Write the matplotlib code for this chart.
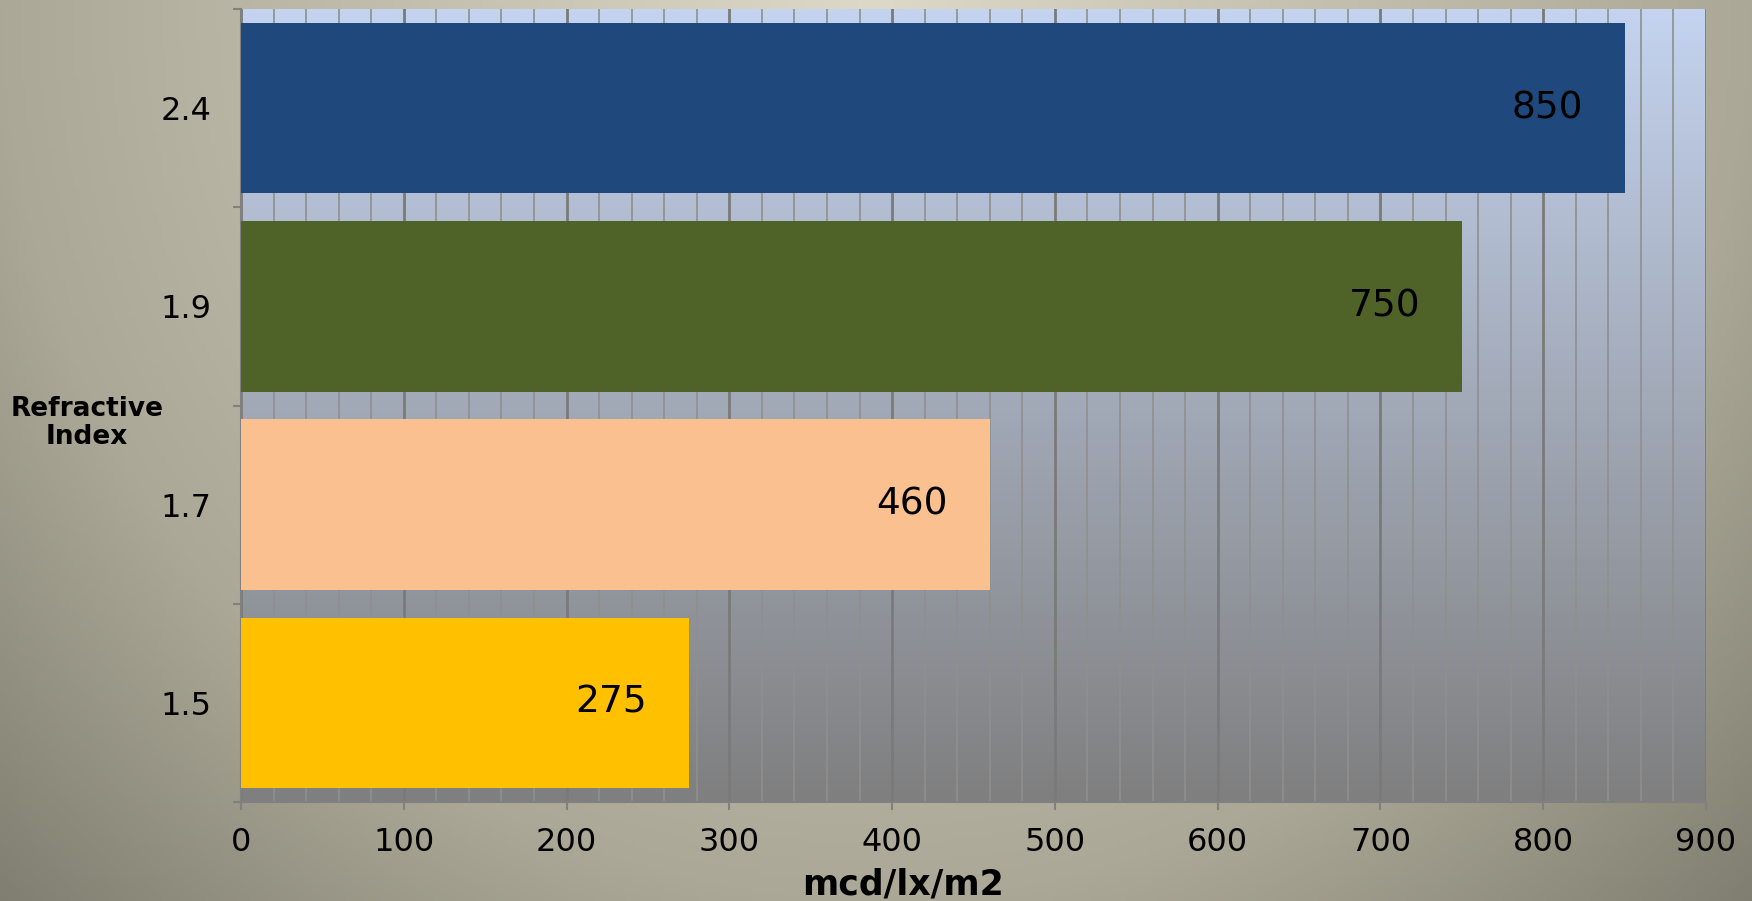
import numpy as np
import matplotlib.pyplot as plt
from matplotlib.ticker import MultipleLocator, FixedLocator

# data
categories = ['1.5', '1.7', '1.9', '2.4']
values = [275, 460, 750, 850]
bar_colors = ['#ffc000', '#fac090', '#4f6228', '#1f497d']
x_ticks = [0, 100, 200, 300, 400, 500, 600, 700, 800, 900]

W, H = 1752, 901
fig = plt.figure(figsize=(W / 100, H / 100), dpi=100)

# figure background: radial-ish gradient, light at top centre
bg_ax = fig.add_axes([0, 0, 1, 1], zorder=-10)
xx, yy = np.meshgrid(np.linspace(0, 1, 400), np.linspace(0, 1, 200))
d = np.sqrt(((xx - 0.5) / 0.5) ** 2 + yy ** 2)
stops = [0, 1.0, 1.42]
rgb = np.dstack([
    np.interp(d, stops, [220, 171, 128]),
    np.interp(d, stops, [217, 168, 126]),
    np.interp(d, stops, [200, 151, 112]),
]) / 255
bg_ax.imshow(rgb, extent=[0, 1, 0, 1], aspect='auto', origin='upper')
bg_ax.axis('off')

ax = fig.add_axes([241 / W, 1 - 802 / H, (1706 - 241) / W, (802 - 9) / H])
ax.set_facecolor('none')

# plot area gradient: light blue on top, grey at bottom
t = np.linspace(0, 1, 256)[:, None]
top = np.array([196, 211, 239]) / 255
bot = np.array([127, 127, 127]) / 255
grad = (top * (1 - t) + bot * t)[:, None, :].repeat(2, axis=1)
ax.imshow(grad, extent=[0, 1, 0, 1], transform=ax.transAxes, aspect='auto',
          origin='upper', zorder=0)

y = np.arange(len(categories))
ax.barh(y, values, height=0.86, color=bar_colors, zorder=3)

for yi, v in zip(y, values):
    ax.annotate(str(v), xy=(v, yi), xytext=(-30, 0), textcoords='offset points',
                ha='right', va='center', fontsize=27, color='black', zorder=4)

ax.set_xlim(0, 900)
ax.set_ylim(-0.5, len(categories) - 0.5)

ax.xaxis.set_major_locator(FixedLocator(x_ticks))
ax.xaxis.set_minor_locator(MultipleLocator(20))
ax.grid(True, axis='x', which='minor', color='#8f8f8f', linewidth=1.2, zorder=1)
ax.grid(True, axis='x', which='major', color='#7a7a7a', linewidth=2, zorder=2)
ax.set_axisbelow(True)

ax.set_yticks(y)
ax.set_yticklabels(categories)
ax.yaxis.set_minor_locator(FixedLocator(np.arange(-0.5, len(categories), 1.0)))

ax.tick_params(axis='y', which='major', length=0, pad=21, labelsize=23)
ax.tick_params(axis='y', which='minor', length=6, width=1.5, color='#808080')
ax.tick_params(axis='x', which='major', length=6, width=1.5, color='#808080',
               pad=12, labelsize=23)
ax.tick_params(axis='x', which='minor', length=0)

for s in ['top', 'right']:
    ax.spines[s].set_visible(False)
for s in ['left', 'bottom']:
    ax.spines[s].set_color('#808080')
    ax.spines[s].set_linewidth(1.5)

fig.text(87 / W, 1 - 423 / H, 'Refractive\nIndex', ha='center', va='center',
         multialignment='center', fontsize=19, fontweight='bold', linespacing=1.1)
fig.text(903 / W, 1 - 885 / H, 'mcd/lx/m2', ha='center', va='center',
         fontsize=25, fontweight='bold')

fig.savefig('out.png', dpi=100)
